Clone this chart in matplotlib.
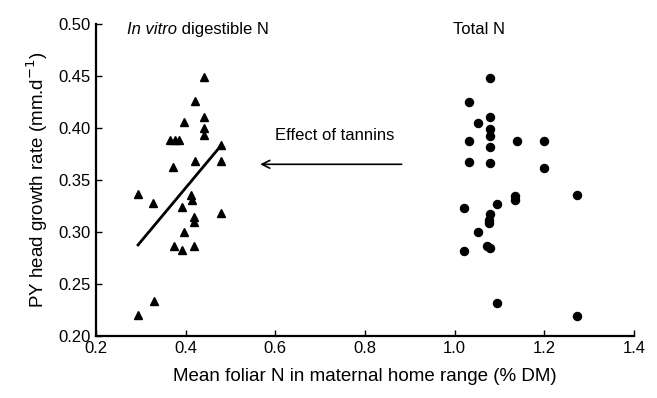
import matplotlib
matplotlib.use("Agg")
import matplotlib.pyplot as plt

plt.rcParams["font.family"] = ["Liberation Sans", "DejaVu Sans"]

# in vitro digestible N (triangles)
dig_n = [0.440, 0.421, 0.396, 0.440, 0.440, 0.440, 0.365, 0.376, 0.386, 0.479,
         0.421, 0.479, 0.373, 0.294, 0.328, 0.412, 0.414, 0.391, 0.479, 0.419,
         0.419, 0.396, 0.374, 0.391, 0.419, 0.293, 0.329]
dig_growth = [0.449, 0.426, 0.406, 0.410, 0.400, 0.393, 0.388, 0.388, 0.388, 0.384,
              0.368, 0.368, 0.362, 0.336, 0.328, 0.335, 0.331, 0.324, 0.318, 0.314,
              0.310, 0.300, 0.286, 0.283, 0.286, 0.220, 0.234]

# total N (circles)
tot_n = [1.078, 1.033, 1.078, 1.051, 1.078, 1.078, 1.033, 1.139, 1.079, 1.033,
         1.079, 1.134, 1.134, 1.094, 1.020, 1.079, 1.077, 1.077, 1.052, 1.020,
         1.072, 1.078, 1.094, 1.200, 1.200, 1.273, 1.273]
tot_growth = [0.448, 0.425, 0.410, 0.4045, 0.399, 0.392, 0.3875, 0.3875, 0.382, 0.367,
              0.3666, 0.3346, 0.331, 0.327, 0.323, 0.317, 0.3115, 0.309, 0.300, 0.282,
              0.286, 0.285, 0.232, 0.387, 0.361, 0.335, 0.219]

# fitted line for digestible N
fit_x = [0.294, 0.477]
fit_y = [0.2875, 0.382]

fig = plt.figure(figsize=(6.57, 3.98), dpi=100)
ax = fig.add_axes([0.146, 0.156, 0.819, 0.784])

ax.plot(dig_n, dig_growth, linestyle="none", marker="^", color="black", markersize=6)
ax.plot(tot_n, tot_growth, linestyle="none", marker="o", color="black", markersize=5.8)
ax.plot(fit_x, fit_y, color="black", linewidth=2)

ax.annotate("", xy=(0.56, 0.365), xytext=(0.888, 0.365),
            arrowprops=dict(arrowstyle="->", color="black", lw=1.2,
                            mutation_scale=14))
ax.text(0.6, 0.393, "Effect of tannins", fontsize=12, va="center", ha="left")

t1 = ax.text(0.27, 0.495, "In vitro", fontsize=12, fontstyle="italic",
             va="center", ha="left")
ax.annotate(" digestible N", xy=(1, 0), xycoords=t1, fontsize=12,
            va="bottom", ha="left")
ax.text(0.996, 0.495, "Total N", fontsize=12, va="center", ha="left")

ax.set_xlim(0.2, 1.4)
ax.set_ylim(0.2, 0.5)
ax.set_xticks([0.2, 0.4, 0.6, 0.8, 1.0, 1.2, 1.4])
ax.set_yticks([0.20, 0.25, 0.30, 0.35, 0.40, 0.45, 0.50])
ax.set_xticklabels(["0.2", "0.4", "0.6", "0.8", "1.0", "1.2", "1.4"])
ax.set_yticklabels(["0.20", "0.25", "0.30", "0.35", "0.40", "0.45", "0.50"])
ax.tick_params(direction="in", length=4, width=1, labelsize=12, pad=4)

for side in ["top", "right"]:
    ax.spines[side].set_visible(False)
for side in ["left", "bottom"]:
    ax.spines[side].set_linewidth(1.6)

ax.set_xlabel("Mean foliar N in maternal home range (% DM)", fontsize=13.5, labelpad=8)
ax.set_ylabel(r"PY head growth rate (mm.d$^{-1}$)", fontsize=13.5, labelpad=6)

fig.savefig("out.png", dpi=100)
